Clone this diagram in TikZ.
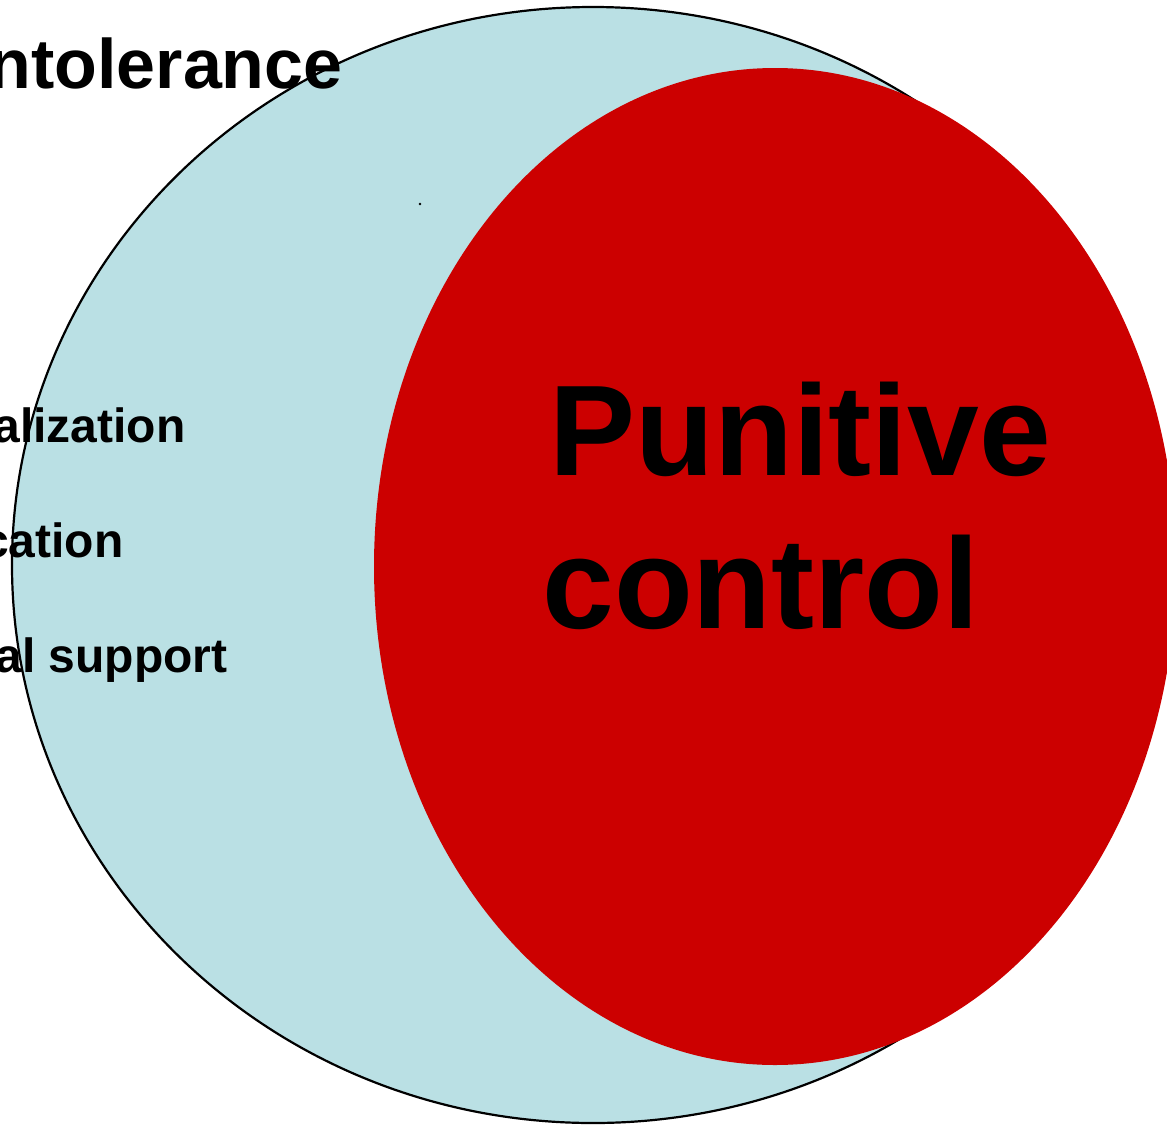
\documentclass[tikz,border=0pt]{standalone}
\usepackage{fontspec}
\setmainfont{Liberation Sans}
\definecolor{paleblue}{HTML}{BAE0E4}
\definecolor{punired}{HTML}{CC0000}
\tikzset{
  sidetext/.style={anchor=base east, inner sep=0pt, font=\bfseries\fontsize{24}{24}\selectfont},
  bigtext/.style={anchor=base west, inner sep=0pt, font=\bfseries\fontsize{64.5}{64.5}\selectfont}
}
\begin{document}
\begin{tikzpicture}[x=0.5pt,y=-0.5pt]
	\useasboundingbox (0,0) rectangle (1167,1125);
	% Outer circle
	\draw[fill=paleblue, line width=1.1pt] (593,565) ellipse (581 and 558);
	\fill (420,204) circle (1.3);

	% Inner ellipse
	\fill[punired] (775,566.5) ellipse (401 and 498.5);

	% Labels
	\node[sidetext, font=\bfseries\fontsize{35}{35}\selectfont] (intol) at (343,88) {ntolerance};
	\node[sidetext] (normal) at (186,442) {alization};
	\node[sidetext] (educ) at (124,557) {cation};
	\node[sidetext] (support) at (228,672) {al support};
	\node[bigtext] (punitive) at (549,475) {Punitive};
	\node[bigtext] (control) at (542,628) {control};
\end{tikzpicture}
\end{document}
